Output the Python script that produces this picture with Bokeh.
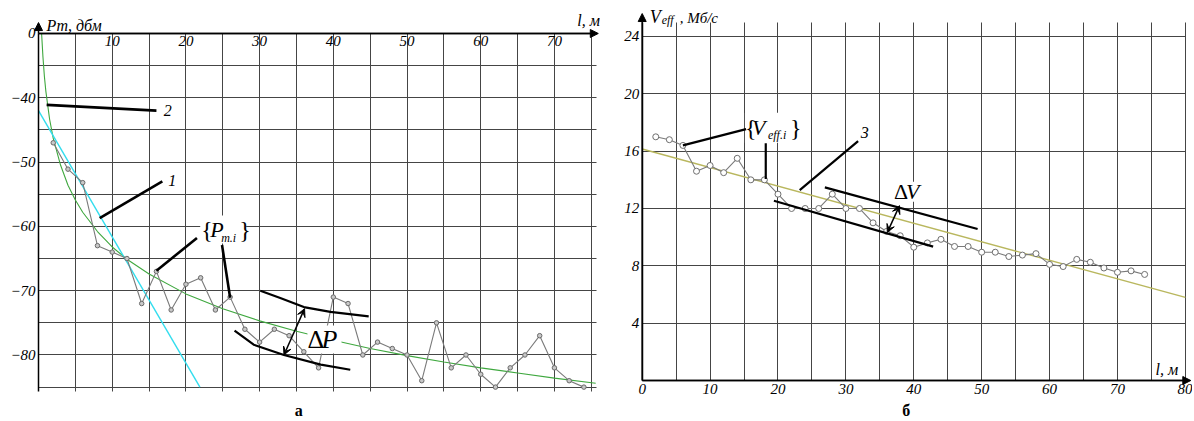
from bokeh.plotting import figure
from bokeh.models import (LinearAxis, FixedTicker, Arrow, NormalHead, VeeHead,
                          Label, Grid, Range1d)
from bokeh.layouts import row
from bokeh.embed import file_html
from bokeh.resources import INLINE

# ---------------- chart "а": received power vs distance ----------------
a_dist = [2, 4, 6, 8, 10, 12, 14, 16, 18, 20, 22, 24, 26, 28, 30, 32, 34, 36, 38,
          40, 42, 44, 46, 48, 50, 52, 54, 56, 58, 60, 62, 64, 66, 68, 70, 72, 74]
a_power = [-47.0, -51.1, -53.2, -63.0, -64.0, -65.0, -72.0, -67.0, -73.0, -69.0,
           -68.0, -73.0, -71.0, -76.0, -78.0, -76.0, -77.0, -79.5, -82.0, -71.0,
           -72.0, -80.0, -78.0, -79.0, -80.0, -84.0, -75.0, -82.0, -80.0, -83.0,
           -85.0, -82.0, -80.0, -77.0, -82.0, -84.0, -85.0]
# green (logarithmic) approximation
a_log_l = [0.42, 0.6, 0.8, 1.0, 1.5, 2.0, 3.0, 4.0, 5.0, 6.0, 8.0, 10.0, 12.0, 15.0,
           20.0, 25.0, 30.0, 35.0, 40.0, 45.0, 50.0, 55.0, 60.0, 65.0, 70.0, 75.6]
a_log_p = [-30.0, -33.6, -36.7, -39.0, -43.3, -46.3, -50.5, -53.6, -55.9, -57.8,
           -60.8, -63.2, -65.1, -67.4, -70.5, -72.8, -74.7, -76.3, -77.7, -79.0,
           -80.1, -81.1, -82.0, -82.8, -83.6, -84.4]
# cyan (linear) approximation
a_lin_l = [0.0, 21.9]
a_lin_p = [-42.0, -85.0]
a_xticks = [10, 20, 30, 40, 50, 60, 70]
a_yticks = [-80, -70, -60, -50, -40, -30]
a_ytick_labels = {-30: "0"}
a_xgrid = [5, 10, 15, 20, 25, 30, 35, 40, 45, 50, 55, 60, 65, 70, 75]
a_ygrid = [-85, -80, -75, -70, -65, -60, -55, -50, -45, -40, -35]

# annotation strokes of chart "а"
a_mark2_l = [1.1, 16.0]
a_mark2_p = [-41.1, -42.0]
a_mark1_l = [8.3, 16.8]
a_mark1_p = [-58.7, -53.0]
a_lead_l = [[16.0, 21.5], [24.9, 26.0]]
a_lead_p = [[-66.9, -61.8], [-62.9, -71.1]]
a_band_up_l = [30.1, 32.8, 36.0, 39.6, 44.8]
a_band_up_p = [-70.0, -71.15, -72.55, -73.3, -74.0]
a_band_lo_l = [26.6, 29.2, 33.3, 38.3, 42.3]
a_band_lo_p = [-76.2, -78.4, -80.0, -81.5, -82.3]
a_delta = [36.1, -72.8, 33.3, -80.0]

# ---------------- chart "б": effective rate vs distance ----------------
b_dist = [2, 4, 6, 8, 10, 12, 14, 16, 18, 20, 22, 24, 26, 28, 30, 32, 34, 36, 38,
          40, 42, 44, 46, 48, 50, 52, 54, 56, 58, 60, 62, 64, 66, 68, 70, 72, 74]
b_rate = [17.0, 16.8, 16.4, 14.6, 15.0, 14.5, 15.5, 14.0, 14.0, 13.0, 12.0, 12.0,
          12.0, 13.0, 12.0, 12.0, 11.0, 10.4, 10.1, 9.3, 9.6, 9.85, 9.35, 9.35,
          8.95, 8.95, 8.65, 8.75, 8.85, 8.1, 7.95, 8.45, 8.25, 7.85, 7.55, 7.65, 7.4]
b_trend_l = [0.0, 80.0]
b_trend_v = [16.15, 5.8]
b_xticks = [0, 10, 20, 30, 40, 50, 60, 70, 80]
b_yticks = [4, 8, 12, 16, 20, 24]
b_xgrid = [5, 10, 15, 20, 25, 30, 35, 40, 45, 50, 55, 60, 65, 70, 75, 80]
b_ygrid = [4, 8, 12, 16, 20, 24]

b_mark3_l = [23.2, 31.8]
b_mark3_v = [13.28, 16.7]
b_lead_l = [[6.0, 15.3], [18.2, 18.2]]
b_lead_v = [[16.4, 17.54], [16.56, 14.05]]
b_band_up_l = [26.9, 49.4]
b_band_up_v = [13.47, 10.57]
b_band_lo_l = [19.4, 42.85]
b_band_lo_v = [12.54, 9.34]
b_delta = [37.9, 12.2, 36.1, 10.33]

SERIF = "Liberation Serif"
GRID_COLOR = "#454545"


def style_axis(ax, ticks, overrides=None):
    ax.ticker = FixedTicker(ticks=ticks)
    if overrides:
        ax.major_label_overrides = overrides
    ax.major_tick_in = 0
    ax.major_tick_out = 0
    ax.minor_tick_in = 0
    ax.minor_tick_out = 0
    ax.axis_line_color = "black"
    ax.axis_line_width = 1.5
    ax.major_label_text_font = SERIF
    ax.major_label_text_font_style = "italic"
    ax.major_label_text_font_size = "15px"
    ax.major_label_text_color = "black"
    ax.major_label_standoff = 3


def add_grids(p, xt, yt, xb, yb):
    p.grid.visible = False
    if "cross_bounds" in Grid.properties():
        p.add_layout(Grid(dimension=0, ticker=FixedTicker(ticks=xt), cross_bounds=yb,
                          grid_line_color=GRID_COLOR, grid_line_width=1))
        p.add_layout(Grid(dimension=1, ticker=FixedTicker(ticks=yt), cross_bounds=xb,
                          grid_line_color=GRID_COLOR, grid_line_width=1))
    else:
        p.segment(x0=xt, y0=[yb[0]] * len(xt), x1=xt, y1=[yb[1]] * len(xt),
                  line_color=GRID_COLOR, line_width=1, level="underlay")
        p.segment(x0=[xb[0]] * len(yt), y0=yt, x1=[xb[1]] * len(yt), y1=yt,
                  line_color=GRID_COLOR, line_width=1, level="underlay")


def lab(p, x, y, text, dx=0, dy=0, size=15, style="italic", align="left"):
    p.add_layout(Label(x=x, y=y, text=text, x_offset=dx, y_offset=dy,
                       text_font=SERIF, text_font_size=f"{size}px",
                       text_font_style=style, text_align=align,
                       text_baseline="middle", text_color="black"))


def axis_arrow(p, x0, y0, x1, y1):
    p.add_layout(Arrow(end=NormalHead(size=8, fill_color="black", line_color="black"),
                       x_start=x0, y_start=y0, x_end=x1, y_end=y1,
                       line_color="black", line_width=1.5))


def double_arrow(p, d):
    p.add_layout(Arrow(start=VeeHead(size=8, fill_color="black", line_color="black"),
                       end=VeeHead(size=8, fill_color="black", line_color="black"),
                       x_start=d[0], y_start=d[1], x_end=d[2], y_end=d[3],
                       line_color="black", line_width=1.5))


def white_box(p, x, y, w, h):
    p.rect(x=[x], y=[y], width=w, height=h, width_units="screen",
           height_units="screen", fill_color="white", line_color=None)


def base_fig(w, h, xr, yr):
    return figure(width=w, height=h, x_range=Range1d(*xr), y_range=Range1d(*yr),
                  title=None, x_axis_location=None, y_axis_location=None,
                  output_backend="svg", toolbar_location=None,
                  min_border_left=0, min_border_right=0, min_border_top=0,
                  min_border_bottom=0, outline_line_color=None,
                  background_fill_color="white", border_fill_color="white")


# ======================= left figure =======================
p1 = base_fig(600, 418, (-5.156, 76.25), (-89.88, -24.87))
add_grids(p1, a_xgrid, a_ygrid, (0, 75.7), (-85.7, -30))

ya = LinearAxis(fixed_location=0, bounds=(-85.7, -30))
style_axis(ya, a_yticks, a_ytick_labels)
p1.add_layout(ya, "left")
xa = LinearAxis(fixed_location=-30, bounds=(0, 75.7))
style_axis(xa, a_xticks)
p1.add_layout(xa, "below")

p1.line(a_log_l, a_log_p, line_color="#3fa83f", line_width=1.1)
p1.line(a_lin_l, a_lin_p, line_color="#33ddee", line_width=1.4)
p1.line(a_dist, a_power, line_color="#7a7a7a", line_width=1.1)
p1.scatter(a_dist, a_power, marker="circle", size=4.5, fill_color="#c8c8c8",
           line_color="#6a6a6a", line_width=1)

white_box(p1, 25.06, -60.5, 46, 28)
white_box(p1, 38.8, -77.6, 34, 28)

p1.multi_line([a_mark2_l, a_mark1_l] + a_lead_l, [a_mark2_p, a_mark1_p] + a_lead_p,
              line_color="black", line_width=2.6)
p1.line(a_band_up_l, a_band_up_p, line_color="black", line_width=2.2)
p1.line(a_band_lo_l, a_band_lo_p, line_color="black", line_width=2.2)
double_arrow(p1, a_delta)

axis_arrow(p1, 0, -30, 75.95, -30)
axis_arrow(p1, 0, -30, 0, -28.3)

lab(p1, 17.0, -42.05, "2", size=16)
lab(p1, 17.6, -52.9, "1", size=16)
# {P_m.i}
lab(p1, 25.06, -60.5, "{", dx=-22, size=24, style="normal")
lab(p1, 25.06, -60.5, "P", dx=-13, size=22)
lab(p1, 25.06, -60.5, "m.i", dx=-2, dy=-8, size=12)
lab(p1, 25.06, -60.5, "}", dx=16, size=24, style="normal")
# ΔP
lab(p1, 38.8, -77.6, "Δ", dx=-17, size=26, style="normal")
lab(p1, 38.8, -77.6, "P", dx=-3, size=26)
# axis names and panel letter
lab(p1, 1.1, -30, "Pm, дбм", dy=8, size=16)
lab(p1, 73.1, -30, "l, м", dy=13, size=16)
lab(p1, 35.3, -88.63, "а", size=16, style="bold", align="center")

# ======================= right figure =======================
p2 = base_fig(592, 418, (-6.14, 81.05), (-2.65, 26.51))
add_grids(p2, b_xgrid, b_ygrid, (0, 80), (0, 25))

xb = LinearAxis(fixed_location=0, bounds=(0, 80))
style_axis(xb, b_xticks)
p2.add_layout(xb, "below")
yb = LinearAxis(fixed_location=0, bounds=(0, 25))
style_axis(yb, b_yticks)
p2.add_layout(yb, "left")

p2.line(b_trend_l, b_trend_v, line_color="#b9b75e", line_width=1.4)
p2.line(b_dist, b_rate, line_color="#7a7a7a", line_width=1.1)
p2.scatter(b_dist, b_rate, marker="circle", size=6, fill_color="white",
           line_color="#6f6f6f", line_width=1)

white_box(p2, 18.96, 17.63, 52, 30)
white_box(p2, 39.3, 13.17, 32, 20)

p2.multi_line([b_mark3_l] + b_lead_l, [b_mark3_v] + b_lead_v,
              line_color="black", line_width=2.2)
p2.line(b_band_up_l, b_band_up_v, line_color="black", line_width=2.2)
p2.line(b_band_lo_l, b_band_lo_v, line_color="black", line_width=2.2)
double_arrow(p2, b_delta)

axis_arrow(p2, 0, 0, 80.8, 0)
axis_arrow(p2, 0, 0, 0, 25.6)

lab(p2, 32.2, 17.28, "3", size=16)
# {V_eff.i}
lab(p2, 18.96, 17.63, "{", dx=-26, size=24, style="normal")
lab(p2, 18.96, 17.63, "V", dx=-19, size=22)
lab(p2, 18.96, 17.63, "eff.i", dx=-3, dy=-7, size=12)
lab(p2, 18.96, 17.63, "}", dx=19, size=24, style="normal")
# ΔV
lab(p2, 39.3, 13.17, "Δ", dx=-15, size=22, style="normal")
lab(p2, 39.3, 13.17, "V", dx=-3, size=22)
# axis names and panel letter
lab(p2, 1.1, 25, "V", dy=5, size=18)
lab(p2, 1.1, 25, "eff", dx=12, dy=2, size=12)
lab(p2, 1.1, 25, ", Мб/с", dx=30, dy=4, size=15)
lab(p2, 75.6, 0, "l, м", dy=11, size=16)
lab(p2, 38.9, -2.09, "б", size=16, style="bold", align="center")

layout = row(p1, p2)
open("out.html", "w").write(file_html(layout, INLINE))
